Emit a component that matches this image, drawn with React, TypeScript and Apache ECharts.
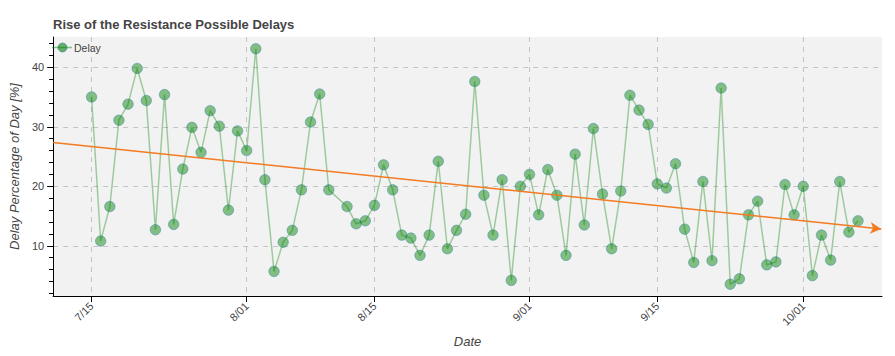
import React, { useEffect, useRef } from "react";
import * as echarts from "echarts";

// ---- data ----
const dates = [
  "07-15", "07-16", "07-17", "07-18", "07-19", "07-20", "07-21", "07-22", "07-23", "07-24",
  "07-25", "07-26", "07-27", "07-28", "07-29", "07-30", "07-31", "08-01", "08-02", "08-03",
  "08-04", "08-05", "08-06", "08-07", "08-08", "08-09", "08-10", "08-12", "08-13", "08-14",
  "08-15", "08-16", "08-17", "08-18", "08-19", "08-20", "08-21", "08-22", "08-23", "08-24",
  "08-25", "08-26", "08-27", "08-28", "08-29", "08-30", "08-31", "09-01", "09-02", "09-03",
  "09-04", "09-05", "09-06", "09-07", "09-08", "09-09", "09-10", "09-11", "09-12", "09-13",
  "09-14", "09-15", "09-16", "09-17", "09-18", "09-19", "09-20", "09-21", "09-22", "09-23",
  "09-24", "09-25", "09-26", "09-27", "09-28", "09-29", "09-30", "10-01", "10-02", "10-03",
  "10-04", "10-05", "10-06", "10-07",
];
const delays = [
  35.0, 10.8, 16.6, 31.1, 33.8, 39.8, 34.4, 12.7, 35.4, 13.6,
  22.9, 29.9, 25.7, 32.7, 30.1, 16.0, 29.3, 26.0, 43.1, 21.1,
  5.7, 10.6, 12.6, 19.4, 30.8, 35.5, 19.4, 16.6, 13.7, 14.2,
  16.8, 23.6, 19.4, 11.8, 11.3, 8.4, 11.8, 24.2, 9.5, 12.6,
  15.3, 37.6, 18.5, 11.8, 21.1, 4.2, 20.0, 22.0, 15.2, 22.8,
  18.5, 8.4, 25.4, 13.5, 29.7, 18.7, 9.5, 19.2, 35.3, 32.8,
  30.4, 20.4, 19.7, 23.8, 12.8, 7.2, 20.8, 7.5, 36.5, 3.55,
  4.45, 15.2, 17.5, 6.8, 7.3, 20.3, 15.2, 20.0, 5.0, 11.8,
  7.6, 20.8, 12.3, 14.2,
];
const tickDates = ["07-15", "08-01", "08-15", "09-01", "09-15", "10-01"];
const tickLabels = ["7/15", "8/01", "8/15", "9/01", "9/15", "10/01"];
const yMajorTicks = [10, 20, 30, 40];
const yMinorTicks = [2, 4, 6, 8, 10, 12, 14, 16, 18, 20, 22, 24, 26, 28, 30, 32, 34, 36, 38, 40, 42, 44];
// trend arrow (days relative to 7/15, value)
const trendDays = [-4.21, 86.55];
const trendValues = [27.36, 12.82];
const xRange = [-4.21, 86.63];
const yRange = [1.57, 45.08];

const dayOf = (md: string) => {
  const [m, d] = md.split("-").map(Number);
  return (Date.UTC(2000, m - 1, d) - Date.UTC(2000, 6, 15)) / 86400000;
};

export default function App() {
  const ref = useRef<HTMLDivElement>(null);
  useEffect(() => {
    document.body.style.margin = "0";
    if (!ref.current) return;
    const chart = echarts.init(ref.current, undefined, { renderer: "svg" });
    const tickDays = tickDates.map(dayOf);
    const pts = dates.map((d, i) => [dayOf(d), delays[i]]);
    const font = "'Liberation Sans', Arial, Helvetica, sans-serif";
    const gridDash = { color: "#c4c4c4", width: 1, type: [5, 5] as number[] };
    chart.setOption({
      animation: false,
      textStyle: { fontFamily: font },
      title: {
        text: "Rise of the Resistance Possible Delays",
        left: 53,
        top: 18,
        padding: 0,
        textStyle: { fontSize: 13, fontWeight: "bold", color: "#444", fontFamily: font },
      },
      grid: {
        left: 53,
        right: 13,
        top: 37,
        bottom: 60,
        show: true,
        backgroundColor: "#f2f2f2",
        borderWidth: 0,
      },
      xAxis: [
        {
          type: "value",
          min: xRange[0],
          max: xRange[1],
          axisLine: { show: true, onZero: false, lineStyle: { color: "#000", width: 1 } },
          axisTick: { show: true, customValues: tickDays, length: 6, lineStyle: { color: "#000" } },
          axisLabel: {
            customValues: tickDays,
            formatter: (v: number) => {
              const i = tickDays.indexOf(Math.round(v));
              return i >= 0 ? tickLabels[i] : "";
            },
            rotate: 45,
            fontSize: 11,
            color: "#444",
            margin: 8,
            fontFamily: font,
          },
          splitLine: { show: true, lineStyle: gridDash },
          name: "Date",
          nameLocation: "middle",
          nameGap: 39,
          nameTextStyle: { fontStyle: "italic", fontSize: 13, color: "#444", fontFamily: font },
        },
      ],
      yAxis: [
        {
          type: "value",
          min: yRange[0],
          max: yRange[1],
          position: "left",
          axisLine: { show: true, onZero: false, lineStyle: { color: "#000", width: 1 } },
          axisTick: { show: true, customValues: yMajorTicks, length: 6, lineStyle: { color: "#000" } },
          axisLabel: { customValues: yMajorTicks, fontSize: 11, color: "#444", margin: 9, fontFamily: font },
          splitLine: { show: true, lineStyle: gridDash },
          name: "Delay Percentage of Day [%]",
          nameLocation: "middle",
          nameGap: 25,
          nameRotate: 90,
          nameTextStyle: { fontStyle: "italic", fontSize: 13, color: "#444", fontFamily: font },
        },
        {
          type: "value",
          min: yRange[0],
          max: yRange[1],
          position: "left",
          axisLine: { show: false, onZero: false },
          axisTick: { show: true, customValues: yMinorTicks, length: 4, lineStyle: { color: "#000" } },
          axisLabel: { show: false },
          splitLine: { show: false },
        },
      ],
      series: [
        {
          name: "Delay",
          type: "scatter",
          data: pts,
          symbol: "circle",
          symbolSize: 10.5,
          z: 2,
          itemStyle: {
            color: "rgba(0,128,0,0.58)",
            borderColor: "rgba(31,119,180,0.5)",
            borderWidth: 1,
          },
          silent: true,
        },
        {
          name: "DelayLine",
          type: "line",
          data: pts,
          showSymbol: false,
          symbol: "none",
          z: 3,
          lineStyle: { color: "rgba(0,128,0,0.35)", width: 1.5 },
          silent: true,
        },
        {
          name: "Trend",
          type: "line",
          data: [],
          z: 4,
          silent: true,
          markLine: {
            silent: true,
            symbol: ["none", "arrow"],
            symbolSize: [9, 11],
            label: { show: false },
            lineStyle: { color: "#f37b22", width: 1.5, type: "solid" },
            data: [
              [
                { coord: [trendDays[0], trendValues[0]] },
                { coord: [trendDays[1], trendValues[1]] },
              ],
            ],
          },
        },
      ],
      graphic: [
        {
          type: "line",
          shape: { x1: 52, y1: 47.5, x2: 72, y2: 47.5 },
          style: { stroke: "rgba(0,128,0,0.45)", lineWidth: 1.5 },
          z: 10,
        },
        {
          type: "circle",
          shape: { cx: 62.5, cy: 47.5, r: 4.5 },
          style: { fill: "rgba(0,128,0,0.58)", stroke: "rgba(31,119,180,0.5)", lineWidth: 1 },
          z: 11,
        },
        {
          type: "text",
          x: 74,
          y: 47.5,
          style: {
            text: "Delay",
            fontSize: 10.5,
            fill: "#444",
            verticalAlign: "middle",
            fontFamily: font,
          },
          z: 11,
        },
      ],
    });
    return () => chart.dispose();
  }, []);
  return <div ref={ref} style={{ width: 895, height: 356 }} />;
}
